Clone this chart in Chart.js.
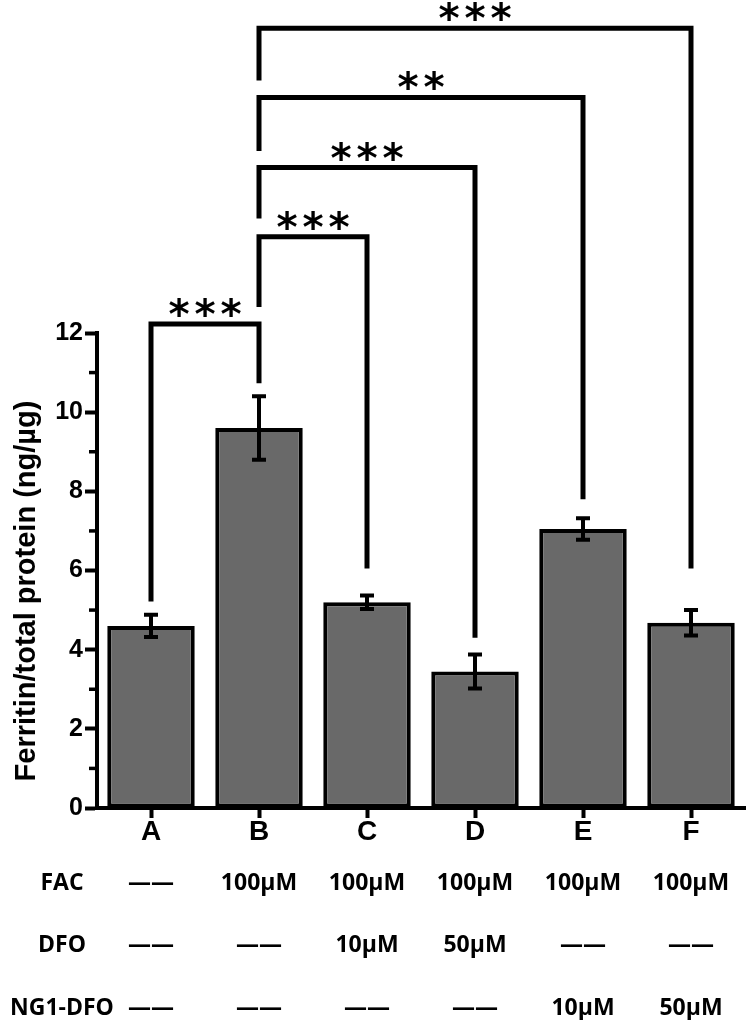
<!DOCTYPE html>
<html><head><meta charset="utf-8">
<script src="https://cdn.jsdelivr.net/npm/chart.js@4.4.0/dist/chart.umd.min.js"></script>
<style>html,body{margin:0;padding:0;background:#fff;overflow:hidden}canvas{display:block}</style>
</head><body>
<canvas id="c" width="749" height="1020" style="width:749px;height:1020px"></canvas>
<script>
// ---- data ----
const categories = ['A', 'B', 'C', 'D', 'E', 'F'];
const ferritinRatio = [4.6, 9.6, 5.2, 3.45, 7.05, 4.68];
const errorSEM = [0.28, 0.8, 0.17, 0.43, 0.27, 0.32];
const yTickStep = 2;
const yMinorTicks = [1, 3, 5, 7, 9, 11];
const yAxisTitle = 'Ferritin/total protein (ng/\u00b5g)';
const rowLabels = ['FAC', 'DFO', 'NG1-DFO'];
const facDose = ['\u2014\u2014', '100\u00b5M', '100\u00b5M', '100\u00b5M', '100\u00b5M', '100\u00b5M'];
const dfoDose = ['\u2014\u2014', '\u2014\u2014', '10\u00b5M', '50\u00b5M', '\u2014\u2014', '\u2014\u2014'];
const ng1DfoDose = ['\u2014\u2014', '\u2014\u2014', '\u2014\u2014', '\u2014\u2014', '10\u00b5M', '50\u00b5M'];
const compareLeft = [0, 1, 1, 1, 1];
const compareRight = [1, 2, 3, 4, 5];
const compareStars = ['***', '***', '***', '**', '***'];
const bracketLevel = [12.23, 14.43, 16.18, 17.95, 19.7];
const leftLegEnd = [5.22, 12.66, 14.89, 16.6, 18.38];
const rightLegEnd = [10.73, 6.05, 4.30, 7.8, 6.05];
const tableRows = [facDose, dfoDose, ng1DfoDose];

const annot = {
  id: 'annot',
  afterDatasetsDraw(chart) {
    const ctx = chart.ctx, x = chart.scales.x, y = chart.scales.y;
    ctx.save();
    ctx.strokeStyle = '#000'; ctx.lineWidth = 4; ctx.lineCap = 'butt';
    ferritinRatio.forEach((v, i) => {
      const cx = x.getPixelForValue(i);
      const t = y.getPixelForValue(v + errorSEM[i]), b = y.getPixelForValue(v - errorSEM[i]);
      ctx.beginPath();
      ctx.moveTo(cx, t); ctx.lineTo(cx, b);
      ctx.moveTo(cx - 7, t); ctx.lineTo(cx + 7, t);
      ctx.moveTo(cx - 7, b); ctx.lineTo(cx + 7, b);
      ctx.stroke();
    });
    ctx.restore();
  },
  afterDraw(chart) {
    const ctx = chart.ctx, x = chart.scales.x, y = chart.scales.y, ca = chart.chartArea;
    ctx.save();
    // minor ticks
    ctx.strokeStyle = '#000'; ctx.lineWidth = 3.5;
    yMinorTicks.forEach(v => {
      const py = y.getPixelForValue(v);
      ctx.beginPath(); ctx.moveTo(ca.left - 8, py); ctx.lineTo(ca.left, py); ctx.stroke();
    });
    // brackets
    ctx.lineWidth = 5; ctx.lineJoin = 'miter';
    const starFont = '"DejaVu Sans"';
    ctx.font = 'bold 100px ' + starFont;
    const m = ctx.measureText('*');
    const h100 = m.actualBoundingBoxAscent + m.actualBoundingBoxDescent;
    const fs = 19 / h100 * 100;
    compareLeft.forEach((li, k) => {
      const ri = compareRight[k];
      const lx = x.getPixelForValue(li), rx = x.getPixelForValue(ri);
      const ly = y.getPixelForValue(bracketLevel[k]);
      ctx.beginPath();
      ctx.moveTo(lx, y.getPixelForValue(leftLegEnd[k]));
      ctx.lineTo(lx, ly); ctx.lineTo(rx, ly);
      ctx.lineTo(rx, y.getPixelForValue(rightLegEnd[k]));
      ctx.stroke();
      // stars
      ctx.font = 'bold ' + fs + 'px ' + starFont;
      ctx.fillStyle = '#000';
      ctx.textAlign = 'center'; ctx.textBaseline = 'alphabetic';
      const mm = ctx.measureText('*');
      const cy = ly - 17;
      const base = cy + (mm.actualBoundingBoxAscent - mm.actualBoundingBoxDescent) / 2;
      const n = compareStars[k].length, pitch = 26, mid = (lx + rx) / 2;
      for (let s = 0; s < n; s++) {
        ctx.fillText('*', mid + (s - (n - 1) / 2) * pitch, base);
      }
    });
    // y axis title
    ctx.save();
    ctx.translate(27, 591); ctx.rotate(-Math.PI / 2);
    ctx.font = 'bold 29px "Liberation Sans"';
    ctx.textAlign = 'center'; ctx.textBaseline = 'middle';
    ctx.fillText(yAxisTitle, 0, 0);
    ctx.restore();
    // treatment table
    ctx.font = 'bold 23px "Open Sans"';
    ctx.textBaseline = 'alphabetic';
    const rowOffsets = [74, 136, 199];
    const capHalf = 0.714 * 23 / 2;
    rowLabels.forEach((lab, r) => {
      const by = ca.bottom + rowOffsets[r] + capHalf;
      const w = ctx.measureText(lab).width;
      ctx.textAlign = 'left';
      ctx.fillText(lab, Math.max(62 - w / 2, 0), by);
      ctx.textAlign = 'center';
      tableRows[r].forEach((t, i) => {
        ctx.fillText(t, x.getPixelForValue(i), by);
      });
    });
    ctx.restore();
  }
};

new Chart(document.getElementById('c'), {
  type: 'bar',
  data: {
    labels: categories,
    datasets: [{
      data: ferritinRatio,
      backgroundColor: '#696969',
      borderColor: '#000',
      borderWidth: 4,
      borderSkipped: false,
      categoryPercentage: 1.0,
      barPercentage: 0.81
    }]
  },
  options: {
    responsive: false,
    animation: false,
    layout: { padding: { top: 333, left: 0, right: 4, bottom: 0 } },
    plugins: { legend: { display: false }, tooltip: { enabled: false } },
    scales: {
      x: {
        afterFit(s) { s.height = 212; },
        grid: { display: true, drawOnChartArea: false, offset: false, tickLength: 10, tickWidth: 4, tickColor: '#000' },
        border: { display: true, width: 4, color: '#000' },
        ticks: { color: '#000', padding: 0, font: { family: 'Liberation Sans', size: 28, weight: 'bold', lineHeight: 1 } }
      },
      y: {
        min: 0, max: 12,
        afterFit(s) { s.width = 97; },
        grid: { display: true, drawOnChartArea: false, tickLength: 12, tickWidth: 4, tickColor: '#000' },
        border: { display: true, width: 4, color: '#000' },
        ticks: { stepSize: yTickStep, color: '#000', padding: 2, font: { family: 'Liberation Sans', size: 25, weight: 'bold' } }
      }
    }
  },
  plugins: [annot]
});
</script>
</body></html>
